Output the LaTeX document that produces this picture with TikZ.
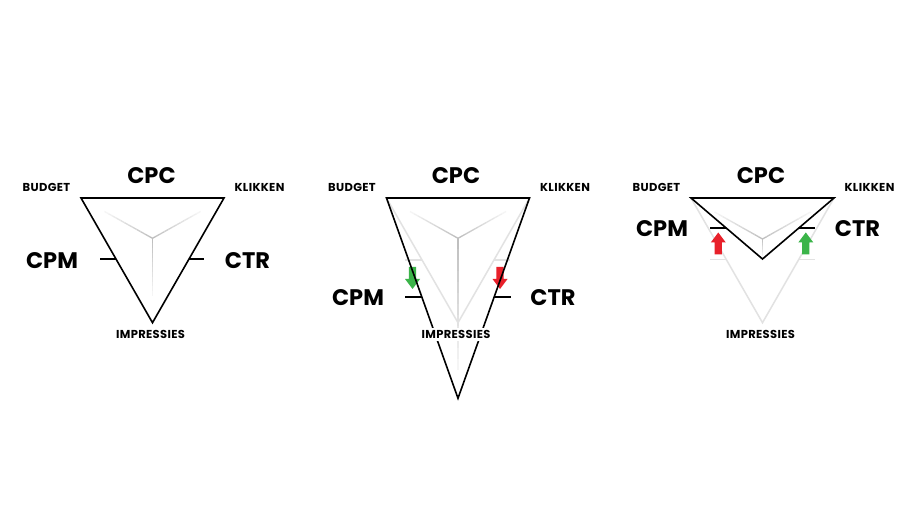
\documentclass[tikz,border=0pt]{standalone}
\usepackage{fontspec}
\setmainfont{Poppins}
\newfontfamily\smallfam{Poppins}[LetterSpace=3]
\usetikzlibrary{calc}
\definecolor{arrgreen}{HTML}{3BB449}
\definecolor{arrred}{HTML}{E8202A}
\definecolor{ghost}{HTML}{E2E2E2}
\newcommand\myfade[2]{%
  \foreach \k in {1,...,12}{%
    \pgfmathsetmacro\fa{(\k-1)/12}%
    \pgfmathsetmacro\fb{\k/12}%
    \pgfmathsetmacro\fc{25-21*(\k-1)/11}%
    \draw[line width=1.3pt, draw=black!\fc] ($(#1)!\fa!(#2)$) -- ($(#1)!\fb!(#2)$);
  }}
% down arrow: colour, x centre, y top (tip at y top + 22)
\newcommand\myarrdown[3]{%
  \fill[#1] (#2-3.6,#3) -- (#2+3.6,#3) -- (#2+3.6,#3+12) -- (#2+7.5,#3+12) -- (#2,#3+22) -- (#2-7.5,#3+12) -- (#2-3.6,#3+12) -- cycle;}
% up arrow: colour, x centre, y tip (bottom at tip + 22)
\newcommand\myarrup[3]{%
  \fill[#1] (#2-3.6,#3+22) -- (#2+3.6,#3+22) -- (#2+3.6,#3+10) -- (#2+7.5,#3+10) -- (#2,#3) -- (#2-7.5,#3+10) -- (#2-3.6,#3+10) -- cycle;}
\begin{document}
\begin{tikzpicture}[x=1pt,y=-1pt,
  big/.style={font=\fontsize{22.5}{24}\selectfont\bfseries, inner sep=0pt},
  small/.style={font=\smallfam\fontsize{11.5}{13}\selectfont\bfseries, inner sep=0pt},
  tri/.style={draw=black, line width=1.6pt, line join=miter},
  ghosttri/.style={draw=ghost, line width=1.5pt, line join=miter},
  tick/.style={draw=black, line width=1.6pt},
  ghosttick/.style={draw=ghost, line width=1.5pt}]
\useasboundingbox[fill=white] (0,0) rectangle (920,518);

% ---------------- panel 1 ----------------
\begin{scope}[xshift=152.5pt]
  \coordinate (a1) at (-71.5,198);
  \coordinate (b1) at (71.5,198);
  \coordinate (c1) at (0,322.7);
  \coordinate (m1) at (0,238.3);
  \coordinate (ya1) at (-48,211.5);
  \coordinate (yb1) at (48,211.5);
  \coordinate (yc1) at (0,296);
  \myfade{m1}{ya1}
  \myfade{m1}{yb1}
  \myfade{m1}{yc1}
  \draw[tri] (a1) -- (b1) -- (c1) -- cycle;
  \coordinate (l1a) at (-52.5,259);
  \coordinate (l1b) at (-36.6,259);
  \coordinate (r1a) at (36.6,259);
  \coordinate (r1b) at (51,259);
  \draw[tick] (l1a) -- (l1b);
  \draw[tick] (r1a) -- (r1b);
  \node[big] (cpc1) at (-1,176) {CPC};
  \node[small] (bud1) at (-106,187) {BUDGET};
  \node[small] (kli1) at (107,187) {KLIKKEN};
  \node[big] (cpm1) at (-100.5,260.5) {CPM};
  \node[big] (ctr1) at (95,260.5) {CTR};
  \node[small] (imp1) at (-2,334.7) {IMPRESSIES};
\end{scope}

% ---------------- panel 2 ----------------
\begin{scope}[xshift=458pt]
  \coordinate (a2) at (-71.5,198);
  \coordinate (b2) at (71.5,198);
  \coordinate (g2) at (0,322.7);
  \coordinate (c2) at (0,398.3);
  \coordinate (m2) at (0,238.3);
  \coordinate (ya2) at (-48,211.5);
  \coordinate (yb2) at (48,211.5);
  \coordinate (yc2) at (0,370);
  \myfade{m2}{ya2}
  \myfade{m2}{yb2}
  \myfade{m2}{yc2}
  \draw[ghosttri] (a2) -- (b2) -- (g2) -- cycle;
  \coordinate (gl2a) at (-53,260);
  \coordinate (gl2b) at (-36,260);
  \coordinate (gr2a) at (36,260);
  \coordinate (gr2b) at (52,260);
  \draw[ghosttick] (gl2a) -- (gl2b);
  \draw[ghosttick] (gr2a) -- (gr2b);
  \myarrdown{arrgreen}{-45.5}{267}
  \myarrdown{arrred}{42}{267}
  \draw[tri] (a2) -- (b2) -- (c2) -- cycle;
  \coordinate (l2a) at (-53,297);
  \coordinate (l2b) at (-36.5,297);
  \coordinate (r2a) at (36.5,297);
  \coordinate (r2b) at (52.5,297);
  \draw[tick] (l2a) -- (l2b);
  \draw[tick] (r2a) -- (r2b);
  \node[big] (cpc2) at (-2,176) {CPC};
  \node[small] (bud2) at (-106,187) {BUDGET};
  \node[small] (kli2) at (107,187) {KLIKKEN};
  \node[big] (cpm2) at (-100,298) {CPM};
  \node[big] (ctr2) at (95,298) {CTR};
  \node[small, fill=white, inner xsep=1pt, inner ysep=2pt] (imp2) at (-2,334.5) {IMPRESSIES};
\end{scope}

% ---------------- panel 3 ----------------
\begin{scope}[xshift=762.5pt]
  \coordinate (a3) at (-71.5,198);
  \coordinate (b3) at (71.5,198);
  \coordinate (g3) at (0,322.7);
  \coordinate (c3) at (0,259);
  \coordinate (m3) at (0,239);
  \coordinate (ya3) at (-48,212);
  \coordinate (yb3) at (48,212);
  \coordinate (yc3) at (0,256);
  \myfade{m3}{ya3}
  \myfade{m3}{yb3}
  \myfade{m3}{yc3}
  \draw[ghosttri] (a3) -- (b3) -- (g3) -- cycle;
  \coordinate (gl3a) at (-52.5,259.5);
  \coordinate (gl3b) at (-36,259.5);
  \coordinate (gr3a) at (36,259.5);
  \coordinate (gr3b) at (52,259.5);
  \draw[ghosttick] (gl3a) -- (gl3b);
  \draw[ghosttick] (gr3a) -- (gr3b);
  \myarrup{arrred}{-44.2}{232.5}
  \myarrup{arrgreen}{43.3}{232.5}
  \draw[tri] (a3) -- (b3) -- (c3) -- cycle;
  \coordinate (l3a) at (-52.5,228);
  \coordinate (l3b) at (-36.2,228);
  \coordinate (r3a) at (36.2,228);
  \coordinate (r3b) at (52,228);
  \draw[tick] (l3a) -- (l3b);
  \draw[tick] (r3a) -- (r3b);
  \node[big] (cpc3) at (-1.5,176) {CPC};
  \node[small] (bud3) at (-106,187) {BUDGET};
  \node[small] (kli3) at (107,187) {KLIKKEN};
  \node[big] (cpm3) at (-100.5,228.3) {CPM};
  \node[big] (ctr3) at (95,228.3) {CTR};
  \node[small] (imp3) at (-2,334.7) {IMPRESSIES};
\end{scope}
\end{tikzpicture}
\end{document}
